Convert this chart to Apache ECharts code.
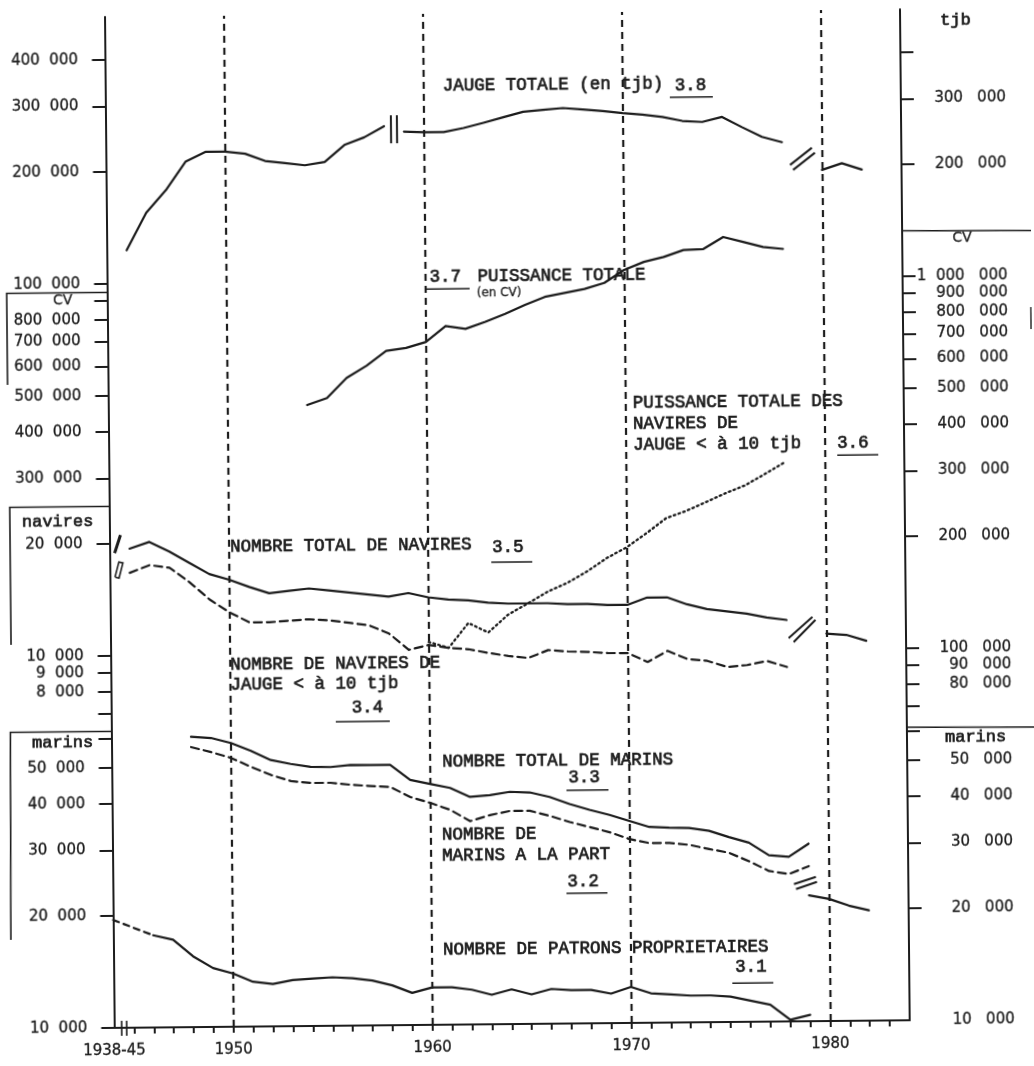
<!DOCTYPE html>
<html lang="fr">
<head>
<meta charset="utf-8">
<title>Flotte de pêche 1938-1982</title>
<script src="https://cdn.jsdelivr.net/npm/echarts@6.0.0/dist/echarts.min.js"></script>
<style>
  html, body { margin: 0; padding: 0; background: #fff; overflow: hidden; }
  /* the scanned sheet is a little tilted */
  #chart { width: 1034px; height: 1066px; transform: rotate(-0.55deg); transform-origin: 517px 533px; }
</style>
</head>
<body>
<div id="chart"></div>
<script>
const INK = '#1c1c1c'
const MONO = '"Liberation Mono", "DejaVu Sans Mono", monospace'
const SANS = '"DejaVu Sans", "Liberation Sans", sans-serif'

const range = (a, b) => Array.from({ length: b - a + 1 }, (_, i) => a + i)

// x axis: 1944 is the "1938-45" slot
const tickYears = range(1945, 1983)
const labelYears = [1944, 1950, 1960, 1970, 1980]
const decadeYears = [1950, 1960, 1970, 1980]

// 3.8 jauge totale (tjb)
const jaugeYears1 = range(1945, 1958)
const jauge1 = [123000, 155000, 178000, 212000, 225000, 225000, 222000, 212000, 209000, 206000, 210000, 233000, 244000, 261000]
const jaugeYears2 = range(1959, 1978)
const jauge2 = [252000, 251000, 251000, 257000, 265000, 274000, 283000, 286000, 289000, 286000, 283000, 279000, 276000, 272000, 265000, 263000, 271000, 254000, 239000, 231000]
const jaugeYears3 = [1980, 1981, 1982]
const jauge3 = [194000, 202000, 194000]

// 3.7 puissance totale (CV)
const puissanceYears = range(1954, 1978)
const puissance = [467000, 487000, 551000, 593000, 650000, 661000, 685000, 755000, 741000, 773000, 811000, 856000, 899000, 920000, 942000, 977000, 1057000, 1110000, 1143000, 1192000, 1198000, 1289000, 1248000, 1209000, 1193000]

// 3.6 puissance des navires < 10 tjb (CV)
const petitsCvYears = range(1960, 1978)
const petitsCv = [107000, 103000, 120000, 113000, 126000, 135000, 145000, 153000, 164000, 178000, 190000, 207000, 227000, 237000, 250000, 264000, 277000, 297000, 319000]

// 3.5 nombre total de navires
const naviresYears = range(1945, 1978)
const navires = [19400, 20200, 19000, 17700, 16500, 15900, 15200, 14600, 14800, 15000, 14800, 14600, 14400, 14200, 14500, 14100, 13900, 13800, 13600, 13500, 13500, 13500, 13400, 13400, 13300, 13300, 13900, 13900, 13300, 12900, 12700, 12500, 12200, 12000]
const naviresYears2 = [1980, 1981, 1982]
const navires2 = [11000, 10900, 10500]

// 3.4 navires de jauge < 10 tjb
const petitsNaviresYears = range(1945, 1978)
const petitsNavires = [16700, 17500, 17200, 15700, 14100, 13000, 12200, 12200, 12300, 12400, 12300, 12100, 11900, 11300, 10200, 10500, 10300, 10200, 9960, 9760, 9630, 10100, 10000, 9960, 9880, 9870, 9330, 9980, 9480, 9360, 9000, 9100, 9320, 8970]

// 3.3 nombre total de marins
const marinsYears = range(1948, 1979)
const marins = [60300, 59800, 57900, 55100, 52000, 50700, 49700, 49600, 50200, 50100, 50100, 45600, 44400, 43300, 40900, 41300, 42100, 41900, 40700, 38900, 37500, 36300, 34900, 33600, 33400, 33300, 32700, 31400, 30300, 28000, 27700, 30000]

// 3.2 marins a la part
const partYears = range(1948, 1979)
const part = [56600, 54800, 52800, 49900, 47400, 45600, 45000, 45000, 44400, 44000, 43700, 41000, 39500, 37800, 35200, 36500, 37400, 37400, 36200, 34800, 33700, 32600, 31200, 30400, 30400, 30000, 29200, 28500, 27000, 25400, 24900, 26100]
const partYears2 = range(1979, 1982)
const part2 = [21800, 21300, 20400, 19800]

// 3.1 patrons proprietaires
const patronsYears0 = [1944, 1946]
const patrons0 = [19500, 17700]
const patronsYears = range(1946, 1979)
const patrons = [17700, 17200, 15500, 14400, 13900, 13200, 13000, 13300, 13400, 13500, 13400, 13200, 12800, 12200, 12600, 12600, 12400, 12000, 12400, 12000, 12400, 12300, 12300, 12000, 12500, 12000, 11900, 11800, 11800, 11700, 11400, 11100, 10100, 10400]

// scale ticks
const tjbLeftTicks = [100000, 200000, 300000, 400000]
const tjbRightTicks = [200000, 300000, 400000]
const tjbRightLabels = [200000, 300000]
const cvLeftTicks = [300000, 400000, 500000, 600000, 700000, 800000, 900000]
const cvLeftLabels = [300000, 400000, 500000, 600000, 700000, 800000]
const cvRightTicks = [70000, 80000, 90000, 100000, 200000, 300000, 400000, 500000, 600000, 700000, 800000, 900000, 1000000]
const cvRightLabels = [80000, 90000, 100000, 200000, 300000, 400000, 500000, 600000, 700000, 800000, 900000, 1000000]
const naviresTicks = [7000, 8000, 9000, 10000, 20000]
const naviresLabels = [8000, 9000, 10000, 20000]
const marinsLeftTicks = [10000, 20000, 30000, 40000, 50000, 60000]
const marinsLeftLabels = [10000, 20000, 30000, 40000, 50000]
const marinsRightTicks = [20000, 30000, 40000, 50000, 60000]
const marinsRightLabels = [10000, 20000, 30000, 40000, 50000]

// all panels share one log scale: tjb/navires run one decade below CV/marins
const CV_MIN = 10000, CV_MAX = 5.22e6
const TJB_MIN = 1000, TJB_MAX = 5.22e5

const group = (v, sep) => String(Math.round(v)).replace(/\B(?=(\d{3})+(?!\d))/g, sep)
const leftFmt = v => group(v, '  ')
const rightFmt = v => v >= 1000000 ? '1  000   000' : group(v, '   ')

function yAx(position, min, max, ticks, labels, showLine) {
  const left = position === 'left'
  return {
    type: 'log', logBase: 10, position, min, max,
    axisLine: { show: showLine, onZero: false, lineStyle: { color: INK, width: 2 } },
    axisTick: { show: true, length: 13, customValues: ticks, lineStyle: { color: INK, width: 2 } },
    axisLabel: {
      customValues: labels, formatter: left ? leftFmt : rightFmt,
      margin: left ? 27 : 105, align: 'right',
      fontFamily: SANS, fontSize: 15, color: INK,
      textBorderColor: INK, textBorderWidth: 0.3
    },
    splitLine: { show: false },
    minorTick: { show: false }
  }
}

const yAxis = [
  yAx('left', TJB_MIN, TJB_MAX, tjbLeftTicks, tjbLeftTicks, true),      // 0 tjb
  yAx('right', TJB_MIN, TJB_MAX, tjbRightTicks, tjbRightLabels, true),  // 1 tjb
  yAx('left', CV_MIN, CV_MAX, cvLeftTicks, cvLeftLabels, false),        // 2 CV
  yAx('right', CV_MIN, CV_MAX, cvRightTicks, cvRightLabels, false),     // 3 CV
  yAx('left', TJB_MIN, TJB_MAX, naviresTicks, naviresLabels, false),    // 4 navires
  yAx('left', CV_MIN, CV_MAX, marinsLeftTicks, marinsLeftLabels, false),   // 5 marins
  yAx('right', CV_MIN, CV_MAX, marinsRightTicks, marinsRightLabels, false) // 6 marins
]

function line(xs, vs, yAxisIndex, dash, width) {
  return {
    type: 'line', xAxisIndex: 0, yAxisIndex,
    data: xs.map((x, i) => [x, vs[i]]),
    symbol: 'none', silent: true, emphasis: { disabled: true },
    lineStyle: { color: INK, width: width || 2.2, type: dash || 'solid', cap: 'round', join: 'round' }
  }
}

const DASH = [8, 5]
const series = [
  line(jaugeYears1, jauge1, 0),
  line(jaugeYears2, jauge2, 0),
  line(jaugeYears3, jauge3, 0),
  line(puissanceYears, puissance, 2),
  line(petitsCvYears, petitsCv, 3, [1.6, 3.4], 2.3),
  line(naviresYears, navires, 4),
  line(naviresYears2, navires2, 4),
  line(petitsNaviresYears, petitsNavires, 4, DASH),
  line(marinsYears, marins, 5),
  line(partYears, part, 5, DASH),
  line(partYears2, part2, 5),
  line(patronsYears0, patrons0, 5, [6, 5]),
  line(patronsYears, patrons, 5)
]
series[5].markLine = {
  silent: true, symbol: ['none', 'none'], label: { show: false },
  lineStyle: { color: INK, width: 2.2, type: [7, 5] },
  data: decadeYears.map(y => ({ xAxis: y }))
}

const option = {
  animation: false,
  backgroundColor: '#fff',
  textStyle: { fontFamily: SANS, color: INK },
  grid: { left: 109.5, right: 129, top: 13, bottom: 42, outerBoundsMode: 'none' },
  xAxis: {
    type: 'value', min: 1944, max: 1984,
    axisLine: { show: true, onZero: false, lineStyle: { color: INK, width: 2 } },
    axisTick: { show: true, length: 6, customValues: tickYears, lineStyle: { color: INK, width: 2 } },
    axisLabel: {
      customValues: labelYears, margin: 16,
      formatter: v => v === 1944 ? '1938-45' : String(v),
      fontFamily: SANS, fontSize: 15, color: INK,
      textBorderColor: INK, textBorderWidth: 0.3
    },
    splitLine: { show: false }
  },
  yAxis,
  series
}

const chart = echarts.init(document.getElementById('chart'), null, { renderer: 'canvas' })
chart.setOption(option)

// ---- decorations: labels, underlines, boxes, break marks ----
const txt = (text, x, y, size, family, align) => ({
  type: 'text', x, y, z: 10, silent: true,
  style: {
    text, fill: INK, stroke: INK, lineWidth: family === MONO ? 0.7 : 0.3,
    fontSize: size, fontFamily: family,
    align: align || 'left', textAlign: align || 'left',
    verticalAlign: 'middle', textVerticalAlign: 'middle'
  }
})
const seg = (x1, y1, x2, y2, w) => ({
  type: 'line', z: 10, silent: true,
  shape: { x1, y1, x2, y2 }, style: { stroke: INK, lineWidth: w || 1.6 }
})
const poly = (points, w) => ({
  type: 'polyline', z: 10, silent: true,
  shape: { points }, style: { stroke: INK, lineWidth: w || 1.6, fill: null }
})

const annotations = [
  ['JAUGE TOTALE (en tjb)', 447, 85], ['3.8', 679, 87],
  ['3.7', 432, 276], ['PUISSANCE TOTALE', 480, 276],
  ['PUISSANCE TOTALE DES', 634, 404], ['NAVIRES DE', 634, 425], ['JAUGE < à 10 tjb', 634, 446], ['3.6', 838, 446],
  ['NOMBRE TOTAL DE NAVIRES', 230, 544], ['3.5', 492, 547],
  ['NOMBRE DE NAVIRES DE', 229, 662], ['JAUGE < à 10 tjb', 229, 682], ['3.4', 350, 706],
  ['NOMBRE TOTAL DE MARINS', 440, 761], ['3.3', 566, 778],
  ['NOMBRE DE', 439, 834], ['MARINS A LA PART', 439, 855], ['3.2', 564, 882],
  ['NOMBRE DE PATRONS PROPRIETAIRES', 439, 949], ['3.1', 731, 969]
]
const underlines = [
  [674, 717, 98.7], [429, 472, 288.3], [838, 879, 458.3], [491, 532, 562],
  [334, 388, 720], [564, 606, 790.7], [563, 604, 893.7], [728, 769, 985.3]
]

const graphic = []
annotations.forEach(([t, x, y]) => graphic.push(txt(t, x, y, 17.5, MONO)))
underlines.forEach(([x1, x2, y]) => graphic.push(seg(x1, y, x2, y, 1.5)))
graphic.push(txt('(en CV)', 479, 293, 12, SANS))

// unit labels
graphic.push(txt('tjb', 945, 24, 17, MONO))
graphic.push(txt('CV', 965, 242, 14, SANS, 'center'))
graphic.push(txt('CV', 65, 296, 14, SANS, 'center'))
graphic.push(txt('navires', 22, 517, 17, MONO))
graphic.push(txt('marins', 30, 738, 17, MONO))
graphic.push(txt('marins', 943, 741, 17, MONO))

// boxes around the unit scales
graphic.push(poly([[109.5, 288.5], [9, 288.5], [9, 380]]))
graphic.push(poly([[109.5, 502.5], [10, 502.5], [10, 640]]))
graphic.push(poly([[109.5, 727.5], [8.5, 727.5], [7, 935]]))
graphic.push(seg(905, 234.5, 1040, 235.5))
graphic.push(seg(1033, 312, 1033, 334, 1.4))
graphic.push(seg(905, 731, 1040, 732))

// break marks, anchored on data coordinates
const at = (yAxisIndex, x, v) => chart.convertToPixel({ xAxisIndex: 0, yAxisIndex }, [x, v])
const marks = (p, lines, w) => lines.forEach(([a, b, c, d]) => graphic.push(seg(p[0] + a, p[1] + b, p[0] + c, p[1] + d, w || 2)))

marks(at(0, 1958.5, 256000), [[-3, -14, -3, 14], [3, -14, 3, 14]])
marks(at(0, 1979, 208000), [[-12, 6, 10, -11], [-9, 11, 13, -6]])
marks(at(4, 1978.7, 11270), [[-12, 8, 12, -13], [-7, 12, 15, -10]])
marks(at(5, 1978.8, 23530), [[-11, 1, 11, -6], [-9, 6, 12, -1]])
marks(at(4, 1944.4, 19980), [[-3, 9, 3, -9]], 3)
const pn = at(4, 1944.46, 17010)
graphic.push(poly([[pn[0] - 4, pn[1] + 7], [pn[0], pn[1] - 8], [pn[0] + 4, pn[1] - 7], [pn[0], pn[1] + 8], [pn[0] - 4, pn[1] + 7]], 1.6))
marks(at(5, 1944.5, 10000), [[-2.5, -7, -2.5, 8], [2.5, -7, 2.5, 8]], 1.6)

chart.setOption({ graphic })
</script>
</body>
</html>
